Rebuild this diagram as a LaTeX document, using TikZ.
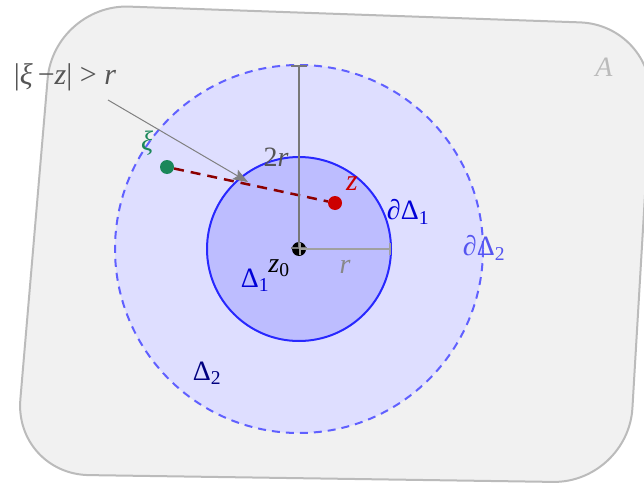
\documentclass[tikz,border=0pt]{standalone}
\usepackage{fontspec}
\setmainfont{Liberation Serif}
\usetikzlibrary{arrows.meta}
\definecolor{shapefill}{RGB}{241,241,241}
\definecolor{shapeline}{RGB}{187,187,187}
\definecolor{dtwofill}{RGB}{222,222,255}
\definecolor{dtwoline}{RGB}{96,96,255}
\definecolor{donefill}{RGB}{189,189,255}
\definecolor{doneline}{RGB}{40,40,255}
\definecolor{xigreen}{RGB}{27,135,90}
\definecolor{zred}{RGB}{204,0,0}
\definecolor{darkred}{RGB}{140,0,0}
\definecolor{labgray}{RGB}{85,85,85}
\definecolor{vgray}{RGB}{120,120,120}
\definecolor{hgray}{RGB}{160,160,160}
\definecolor{arrgray}{RGB}{128,128,128}
\definecolor{rgray}{RGB}{136,136,136}
\definecolor{lblue}{RGB}{0,0,215}
\definecolor{pblue}{RGB}{85,85,240}
\definecolor{navyb}{RGB}{0,0,128}
\begin{document}
\begin{tikzpicture}[x=1pt,y=-1pt,
  lab/.style={inner sep=0pt,font=\fontsize{28}{32}\selectfont},
  dot/.style={circle,inner sep=0pt,minimum size=14pt},
  disc/.style={circle,inner sep=0pt,outer sep=0pt,line width=2pt},
  meas/.style={line width=2pt,{Bar[width=16pt]}-{Bar[width=16pt]}}]
\useasboundingbox (0,0) rectangle (644,484);
\clip (0,0) rectangle (644,484);
% outer region A
\draw[fill=shapefill,draw=shapeline,line width=2pt,rounded corners=75pt]
  (54,4) -- (655,25) -- (628,483) -- (14,474) -- cycle;
\coordinate (O) at (299,249);
\node[disc,minimum size=368pt,fill=dtwofill,draw=dtwoline,dash pattern=on 8pt off 6pt] (D2) at (O) {};
\node[disc,minimum size=184pt,fill=donefill,draw=doneline] (D1) at (O) {};
% points
\node[dot,fill=black] (c) at (O) {};
\node[dot,fill=xigreen] (xi) at (167,167) {};
\node[dot,fill=zred] (z) at (335,203) {};
\draw[darkred,line width=2.5pt,dash pattern=on 10pt off 7pt] (xi) -- (z);
% radii
\draw[meas,draw=vgray] (O) -- (D2.north);
\draw[meas,draw=hgray,{Bar[width=12pt]}-{Bar[width=12pt]}] (O) -- (D1.east);
% annotation
\node[lab,text=labgray,font=\fontsize{30}{34}\selectfont] (ann) at (65,77)
  {|\textit{ξ}\,−\textit{z}| > \textit{r}};
\coordinate (a1) at (108,100);
\coordinate (a2) at (248,182);
\draw[arrgray,line width=1pt,-{Stealth[length=15pt,width=11pt,inset=3pt]}] (a1) -- (a2);
% labels
\node[lab,text=shapeline] (A) at (604,67) {\textit{A}};
\node[lab,text=xigreen] (xil) at (147,143) {\textit{ξ}};
\node[lab,text=zred,font=\fontsize{30}{32}\selectfont] (zl) at (352,184) {\textit{z}};
\node[lab,text=labgray] (tr) at (276,157) {2\textit{r}};
\node[lab,text=rgray] (rl) at (345,267) {\textit{r}};
\node[lab,text=black] (z0) at (279,268) {\textit{z}\textsubscript{0}};
\node[lab,text=lblue] (d1) at (255,280) {Δ\textsubscript{1}};
\node[lab,text=lblue] (pd1) at (408,212) {∂Δ\textsubscript{1}};
\node[lab,text=pblue] (pd2) at (484,248) {∂Δ\textsubscript{2}};
\node[lab,text=navyb] (d2) at (207,373) {Δ\textsubscript{2}};
\end{tikzpicture}
\end{document}
